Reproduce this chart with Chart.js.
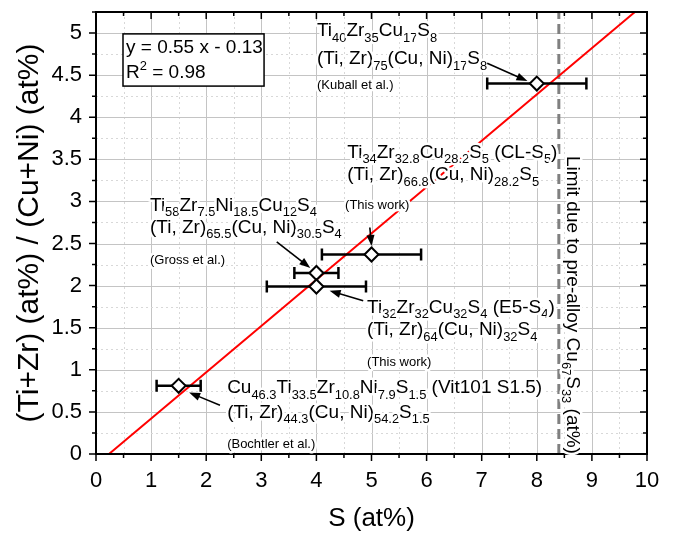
<!DOCTYPE html>
<html>
<head>
<meta charset="utf-8">
<script src="https://cdn.jsdelivr.net/npm/chart.js@4.4.0/dist/chart.umd.min.js"></script>
<style>
  html, body { margin: 0; padding: 0; background: #fff; }
  #wrap { width: 673px; height: 536px; }
</style>
</head>
<body>
<div id="wrap"><canvas id="myChart"></canvas></div>
<script>
const ctx = document.getElementById("myChart");

// S content (at%) and (Ti+Zr)/(Cu+Ni) ratio of the alloys
var sContent = [8, 5, 4, 4, 1.5];
var ratio = [4.4, 2.37, 2.15, 1.99, 0.81];
var sLow = [7.1, 4.1, 3.6, 3.1, 1.1];
var sHigh = [8.9, 5.9, 4.4, 4.9, 1.9];

// linear fit y = 0.55 x - 0.13, end points inside the frame
var fitX = [0.236, 9.78];
var fitY = [0, 5.25];

// limit from the Cu67S33 pre-alloy
var limitS = [8.4, 8.4];
var limitY = [0, 5.25];

var xMax = 10;
var yMax = 5.25;

var FONT = '"Liberation Sans", Arial, sans-serif';
Chart.defaults.font.family = FONT;
Chart.defaults.color = "#000";

// text labels: x, y (data units, baseline start), text, size
var notes = [
  [4.01, 4.96, "Ti_{40}Zr_{35}Cu_{17}S_{8}", 19],
  [4.01, 4.63, "(Ti, Zr)_{75}(Cu, Ni)_{17}S_{8}", 19],
  [4.01, 4.33, "(Kuball et al.)", 13],
  [4.56, 3.52, "Ti_{34}Zr_{32.8}Cu_{28.2}S_{5} (CL-S_{5})", 19],
  [4.56, 3.25, "(Ti, Zr)_{66.8}(Cu, Ni)_{28.2}S_{5}", 19],
  [4.52, 2.91, "(This work)", 13],
  [0.98, 2.89, "Ti_{58}Zr_{7.5}Ni_{18.5}Cu_{12}S_{4}", 19],
  [0.98, 2.63, "(Ti, Zr)_{65.5}(Cu, Ni)_{30.5}S_{4}", 19],
  [0.98, 2.26, "(Gross et al.)", 13],
  [4.92, 1.68, "Ti_{32}Zr_{32}Cu_{32}S_{4} (E5-S_{4})", 19],
  [4.92, 1.41, "(Ti, Zr)_{64}(Cu, Ni)_{32}S_{4}", 19],
  [4.92, 1.05, "(This work)", 13],
  [2.38, 0.72, "Cu_{46.3}Ti_{33.5}Zr_{10.8}Ni_{7.9}S_{1.5} (Vit101 S1.5)", 19],
  [2.38, 0.43, "(Ti, Zr)_{44.3}(Cu, Ni)_{54.2}S_{1.5}", 19],
  [2.38, 0.07, "(Bochtler et al.)", 13],
];

// arrows: from x, y to x, y (data units)
var arrows = [
  [7.10, 4.64, 7.83, 4.43],
  [4.97, 2.69, 5.0, 2.47],
  [3.28, 2.52, 3.89, 2.21],
  [4.85, 1.82, 4.24, 1.94],
  [2.25, 0.58, 1.69, 0.73],
];

function parts(str) {
  var out = [], re = /([_^])\{([^}]*)\}/g, last = 0, m;
  while ((m = re.exec(str))) {
    if (m.index > last) out.push({ t: str.slice(last, m.index), k: "" });
    out.push({ t: m[2], k: m[1] });
    last = re.lastIndex;
  }
  if (last < str.length) out.push({ t: str.slice(last), k: "" });
  return out;
}

function drawRich(c, str, x, y, size, halo) {
  c.textAlign = "left";
  c.textBaseline = "alphabetic";
  c.fillStyle = "#000";
  c.strokeStyle = "#fff";
  c.lineJoin = "round";
  c.lineWidth = 5;
  parts(str).forEach(function (s) {
    var fs = s.k ? size * 0.68 : size;
    c.font = fs + "px " + FONT;
    var dy = s.k === "_" ? size * 0.28 : s.k === "^" ? -size * 0.42 : 0;
    if (halo) c.strokeText(s.t, x, y + dy);
    c.fillText(s.t, x, y + dy);
    x += c.measureText(s.t).width;
  });
}

function arrow(c, x1, y1, x2, y2) {
  var ang = Math.atan2(y2 - y1, x2 - x1), hl = 11, hw = 4;
  c.strokeStyle = "#000";
  c.fillStyle = "#000";
  c.lineWidth = 1.6;
  c.beginPath();
  c.moveTo(x1, y1);
  c.lineTo(x2 - Math.cos(ang) * hl * 0.8, y2 - Math.sin(ang) * hl * 0.8);
  c.stroke();
  c.beginPath();
  c.moveTo(x2, y2);
  c.lineTo(x2 - Math.cos(ang) * hl - Math.sin(ang) * hw, y2 - Math.sin(ang) * hl + Math.cos(ang) * hw);
  c.lineTo(x2 - Math.cos(ang) * hl + Math.sin(ang) * hw, y2 - Math.sin(ang) * hl - Math.cos(ang) * hw);
  c.closePath();
  c.fill();
}

function isMajor(v, step) {
  var q = v / step;
  return Math.abs(q - Math.round(q)) < 1e-6;
}

const decor = {
  id: "decor",
  beforeDatasetsDraw: function (chart) {
    var c = chart.ctx, a = chart.chartArea, xs = chart.scales.x, ys = chart.scales.y;
    c.save();
    xs.ticks.forEach(function (t) {
      var px = Math.round(xs.getPixelForValue(t.value)) + 0.5;
      if (px <= a.left + 1 || px >= a.right - 1) return;
      var mj = isMajor(t.value, 1);
      c.strokeStyle = mj ? "#c4c4c4" : "#d8d8d8";
      c.lineWidth = 1;
      c.setLineDash(mj ? [] : [2, 3]);
      c.beginPath();
      c.moveTo(px, a.top);
      c.lineTo(px, a.bottom);
      c.stroke();
    });
    ys.ticks.forEach(function (t) {
      var py = Math.round(ys.getPixelForValue(t.value)) + 0.5;
      if (py <= a.top + 1 || py >= a.bottom - 1) return;
      var mj = isMajor(t.value, 0.5);
      c.strokeStyle = mj ? "#c4c4c4" : "#d8d8d8";
      c.lineWidth = 1;
      c.setLineDash(mj ? [] : [2, 3]);
      c.beginPath();
      c.moveTo(a.left, py);
      c.lineTo(a.right, py);
      c.stroke();
    });
    c.restore();
  },
  beforeDatasetDraw: function (chart, args) {
    if (args.index !== 0) return;
    var c = chart.ctx, xs = chart.scales.x, ys = chart.scales.y;
    c.save();
    c.strokeStyle = "#000";
    c.lineWidth = 2.5;
    for (var i = 0; i < sContent.length; i++) {
      var y = ys.getPixelForValue(ratio[i]);
      var x1 = xs.getPixelForValue(sLow[i]), x2 = xs.getPixelForValue(sHigh[i]);
      c.beginPath();
      c.moveTo(x1, y);
      c.lineTo(x2, y);
      c.moveTo(x1, y - 6);
      c.lineTo(x1, y + 6);
      c.moveTo(x2, y - 6);
      c.lineTo(x2, y + 6);
      c.stroke();
    }
    c.restore();
  },
  afterDatasetsDraw: function (chart) {
    var c = chart.ctx, a = chart.chartArea, xs = chart.scales.x, ys = chart.scales.y;
    c.save();
    // frame and ticks
    c.strokeStyle = "#000";
    c.lineWidth = 1.5;
    xs.ticks.forEach(function (t) {
      var px = xs.getPixelForValue(t.value);
      var len = isMajor(t.value, 1) ? 7 : 4;
      c.beginPath();
      c.moveTo(px, a.bottom);
      c.lineTo(px, a.bottom + len);
      c.moveTo(px, a.top);
      c.lineTo(px, a.top + len);
      c.stroke();
    });
    ys.ticks.forEach(function (t) {
      var py = ys.getPixelForValue(t.value);
      var len = isMajor(t.value, 0.5) ? 7 : 4;
      c.beginPath();
      c.moveTo(a.left, py);
      c.lineTo(a.left - len, py);
      c.moveTo(a.right, py);
      c.lineTo(a.right - len, py);
      c.stroke();
    });
    c.lineWidth = 2;
    c.strokeRect(a.left, a.top, a.right - a.left, a.bottom - a.top);

    // fit equation box
    var bx1 = xs.getPixelForValue(0.49), bx2 = xs.getPixelForValue(3.05);
    var by1 = ys.getPixelForValue(4.99), by2 = ys.getPixelForValue(4.37);
    c.fillStyle = "#fff";
    c.fillRect(bx1, by1, bx2 - bx1, by2 - by1);
    c.lineWidth = 1.5;
    c.strokeRect(bx1, by1, bx2 - bx1, by2 - by1);
    drawRich(c, "y = 0.55 x - 0.13", xs.getPixelForValue(0.545), ys.getPixelForValue(4.76), 19, false);
    drawRich(c, "R^{2} = 0.98", xs.getPixelForValue(0.545), ys.getPixelForValue(4.47), 19, false);

    notes.forEach(function (n) {
      drawRich(c, n[2], xs.getPixelForValue(n[0]), ys.getPixelForValue(n[1]), n[3], true);
    });
    arrows.forEach(function (r) {
      arrow(c, xs.getPixelForValue(r[0]), ys.getPixelForValue(r[1]),
        xs.getPixelForValue(r[2]), ys.getPixelForValue(r[3]));
    });

    // rotated limit label
    c.translate(xs.getPixelForValue(8.55), ys.getPixelForValue(3.54));
    c.rotate(Math.PI / 2);
    drawRich(c, "Limit due to pre-alloy Cu_{67}S_{33} (at%)", 0, 0, 19, true);
    c.restore();
  },
};

new Chart(ctx, {
  type: "scatter",
  data: {
    datasets: [
      {
        label: "alloys",
        data: sContent.map(function (v, i) { return { x: v, y: ratio[i] }; }),
        pointStyle: "rectRot",
        pointRadius: 7,
        pointBackgroundColor: "#fff",
        pointBorderColor: "#000",
        pointBorderWidth: 2,
        order: 0,
      },
      {
        label: "fit",
        type: "line",
        data: fitX.map(function (v, i) { return { x: v, y: fitY[i] }; }),
        borderColor: "#ff0000",
        borderWidth: 2,
        pointRadius: 0,
        order: 1,
      },
      {
        label: "limit",
        type: "line",
        data: limitS.map(function (v, i) { return { x: v, y: limitY[i] }; }),
        borderColor: "#808080",
        borderWidth: 3,
        borderDash: [10, 5],
        pointRadius: 0,
        order: 2,
      },
    ],
  },
  options: {
    responsive: true,
    maintainAspectRatio: false,
    animation: false,
    layout: { padding: { left: 0, right: 26, top: 12, bottom: 0 } },
    plugins: { legend: { display: false }, tooltip: { enabled: false } },
    scales: {
      x: {
        type: "linear",
        min: 0,
        max: xMax,
        afterFit: function (s) {
          s.height = 82;
          s.paddingLeft = 0;
          s.paddingRight = 0;
        },
        grid: { drawOnChartArea: false, drawTicks: false },
        border: { display: false },
        ticks: {
          stepSize: 0.5,
          maxTicksLimit: 100,
          autoSkip: false,
          maxRotation: 0,
          padding: 14,
          font: { size: 22 },
          callback: function (v) { return isMajor(v, 1) ? String(Math.round(v)) : ""; },
        },
        title: { display: true, text: "S (at%)", font: { size: 26 }, padding: { top: 0, bottom: 2 } },
      },
      y: {
        type: "linear",
        min: 0,
        max: yMax,
        afterFit: function (s) {
          s.width = 96;
          s.paddingTop = 0;
          s.paddingBottom = 0;
        },
        grid: { drawOnChartArea: false, drawTicks: false },
        border: { display: false },
        ticks: {
          stepSize: 0.25,
          maxTicksLimit: 100,
          autoSkip: false,
          padding: 14,
          font: { size: 22 },
          callback: function (v) { return isMajor(v, 0.5) ? String(Math.round(v * 10) / 10) : ""; },
        },
        title: { display: true, text: "(Ti+Zr) (at%) / (Cu+Ni) (at%)", font: { size: 30 }, padding: { top: 12, bottom: 0 } },
      },
    },
  },
  plugins: [decor],
});
</script>
</body>
</html>
